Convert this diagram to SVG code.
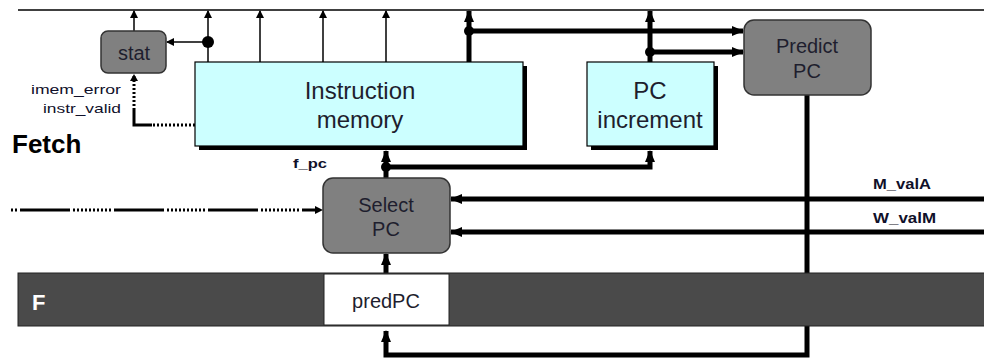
<svg xmlns="http://www.w3.org/2000/svg" width="984" height="360" viewBox="0 0 984 360">
<style>
.t{font-family:"Liberation Sans",Arial,sans-serif;fill:#1e1e2e;text-anchor:middle}
.thin{stroke:#000;stroke-width:1.5;fill:none}
.thick{stroke:#000;stroke-width:5;fill:none}
.lbl{font-family:"Liberation Sans",Arial,sans-serif;font-size:13px;fill:#10102a}
.mem{fill:#ccffff;stroke:#000;stroke-width:1.2}
.shadow{fill:#000}
.logic{fill:#808080;stroke:#333;stroke-width:1.5}
.dot{stroke:#000;stroke-width:3;stroke-dasharray:2,2;fill:none}
</style>
<defs>
<marker id="a" markerUnits="userSpaceOnUse" markerWidth="8" markerHeight="8" refX="7" refY="4" orient="auto"><path d="M0,0 L8,4 L0,8 z" fill="#000"/></marker>
<marker id="ab" markerUnits="userSpaceOnUse" markerWidth="12" markerHeight="12" refX="11" refY="6" orient="auto"><path d="M0,1 L12,6 L0,11 z" fill="#000"/></marker>
</defs>
<rect width="984" height="360" fill="#fff"/>
<line x1="18" y1="10" x2="984" y2="10" class="thin"/>
<text x="12" y="153" style="font-family:'Liberation Sans',Arial,sans-serif;font-size:26px;font-weight:bold;fill:#000">Fetch</text>

<g id="connectors">
<line x1="134" y1="31" x2="134" y2="11" class="thin" marker-end="url(#a)"/>
<line x1="208" y1="62" x2="208" y2="11" class="thin" marker-end="url(#a)"/>
<line x1="208" y1="42" x2="167" y2="42" class="thin" marker-end="url(#a)"/>
<circle cx="208" cy="42" r="6" fill="#000"/>
<line x1="260" y1="62" x2="260" y2="11" class="thin" marker-end="url(#a)"/>
<line x1="323" y1="62" x2="323" y2="11" class="thin" marker-end="url(#a)"/>
<line x1="386" y1="62" x2="386" y2="11" class="thin" marker-end="url(#a)"/>
<path d="M195,125 H152" class="dot"/>
<path d="M134,110 V76" class="dot"/>
<path d="M134,110 V125 H152" style="stroke:#000;stroke-width:3;fill:none"/>
<path d="M134,74 L130,81 L138,81 z" fill="#000"/>
<path d="M469,62 V11" class="thick" marker-end="url(#ab)"/>
<path d="M469,31 H743" class="thick" marker-end="url(#ab)"/>
<circle cx="469" cy="31" r="5" fill="#000"/>
<path d="M650,62 V11" class="thick" marker-end="url(#ab)"/>
<path d="M650,52 H743" class="thick" marker-end="url(#ab)"/>
<circle cx="650" cy="52" r="5" fill="#000"/>
<path d="M386,178 V151" class="thick" marker-end="url(#ab)"/>
<path d="M386,167 H650 V151" class="thick" marker-end="url(#ab)"/>
<circle cx="386" cy="167" r="5" fill="#000"/>
<path d="M11,210 H316" style="stroke:#000;stroke-width:3;stroke-dasharray:50,3,2,2,2,2,2,2,2,2,2,2,2,2,2,2,2,2,2,2,2,3;stroke-dashoffset:85;fill:none"/>
<path d="M323,210 L315,206 L315,214 z" fill="#000"/>
<path d="M984,199 H451" class="thick" marker-end="url(#ab)"/>
<path d="M984,232 H451" class="thick" marker-end="url(#ab)"/>
<path d="M807,95 V355 H386 V331" class="thick" marker-end="url(#ab)"/>
<path d="M386,273 V254" class="thick" marker-end="url(#ab)"/>
</g>

<text x="873" y="189" class="lbl" style="font-weight:bold;font-size:14px" textLength="58" lengthAdjust="spacingAndGlyphs">M_valA</text>
<text x="873" y="223" class="lbl" style="font-weight:bold;font-size:14px" textLength="63" lengthAdjust="spacingAndGlyphs">W_valM</text>
<text x="293" y="168" class="lbl" style="font-weight:bold" textLength="34" lengthAdjust="spacingAndGlyphs">f_pc</text>
<text x="31" y="94" class="lbl" textLength="90" lengthAdjust="spacingAndGlyphs">imem_error</text>
<text x="43" y="113" class="lbl" textLength="78" lengthAdjust="spacingAndGlyphs">instr_valid</text>

<g id="stat">
<rect x="101" y="31" width="65" height="42" rx="7" class="logic"/>
<text x="134" y="60" class="t" font-size="20">stat</text>
</g>
<g id="imem">
<rect x="199" y="66" width="328" height="84" class="shadow"/>
<rect x="195" y="62" width="328" height="84" class="mem"/>
<text x="360" y="99" class="t" font-size="24">Instruction</text>
<text x="360" y="128" class="t" font-size="24">memory</text>
</g>
<g id="pcinc">
<rect x="591" y="66" width="127" height="84" class="shadow"/>
<rect x="587" y="62" width="127" height="84" class="mem"/>
<text x="650" y="99" class="t" font-size="24">PC</text>
<text x="650" y="128" class="t" font-size="24">increment</text>
</g>
<g id="predictpc">
<rect x="744" y="20" width="127" height="75" rx="10" class="logic"/>
<text x="807" y="53" class="t" font-size="20">Predict</text>
<text x="807" y="78" class="t" font-size="20">PC</text>
</g>
<g id="selectpc">
<rect x="323" y="178" width="127" height="75" rx="10" class="logic"/>
<text x="386" y="212" class="t" font-size="20">Select</text>
<text x="386" y="236" class="t" font-size="20">PC</text>
</g>
<g id="fbar">
<rect x="18" y="273" width="970" height="53" fill="#4a4a4a" stroke="#222" stroke-width="1"/>
<rect x="324" y="274" width="125" height="51" fill="#fff" stroke="#222" stroke-width="1"/>
<text x="386" y="308" class="t" font-size="20">predPC</text>
<text x="32" y="310" style="font-family:'Liberation Sans',Arial,sans-serif;font-size:22px;font-weight:bold;fill:#fff">F</text>
</g>
</svg>
